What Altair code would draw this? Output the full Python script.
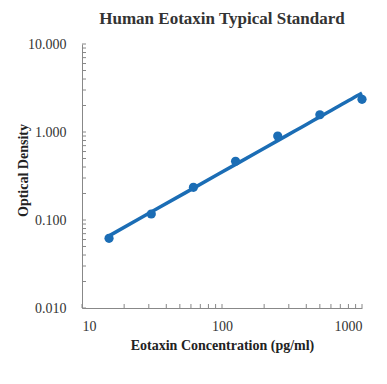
import altair as alt
import pandas as pd

# Standard curve data
conc = [15.6, 31.25, 62.5, 125, 250, 500, 1000]
od = [0.062, 0.117, 0.235, 0.465, 0.90, 1.57, 2.35]

# Axis tick values (log axes, with minor ticks)
x_major = [10, 100, 1000]
y_major = [0.01, 0.1, 1, 10]
x_ticks = [10, 20, 30, 40, 50, 60, 70, 80, 90,
           100, 200, 300, 400, 500, 600, 700, 800, 900, 1000]
y_ticks = [0.01, 0.02, 0.03, 0.04, 0.05, 0.06, 0.07, 0.08, 0.09,
           0.1, 0.2, 0.3, 0.4, 0.5, 0.6, 0.7, 0.8, 0.9,
           1, 2, 3, 4, 5, 6, 7, 8, 9, 10]

df = pd.DataFrame({"conc": conc, "od": od})
xt = pd.DataFrame({"conc": x_ticks})
yt = pd.DataFrame({"od": y_ticks})

BLUE = "#1b6db5"
SERIF = "Liberation Serif"
W, H = 280, 264

xscale = alt.Scale(type="log", domain=[10, 1000])
yscale = alt.Scale(type="log", domain=[0.01, 10])

x_enc = alt.X("conc:Q", scale=xscale,
              axis=alt.Axis(values=x_major, format="d",
                            title="Eotaxin Concentration (pg/ml)",
                            titleY=41, titleBaseline="alphabetic",
                            labelPadding=11))
y_enc = alt.Y("od:Q", scale=yscale,
              axis=alt.Axis(values=y_major, format=".3f",
                            title="Optical Density",
                            titleX=-55, titleY=126, titleBaseline="alphabetic",
                            labelPadding=16))

line = alt.Chart(df).transform_regression(
    "conc", "od", method="pow"
).mark_line(color=BLUE, strokeWidth=3.5).encode(x=x_enc, y=y_enc)

points = alt.Chart(df).mark_circle(color=BLUE, opacity=1, size=85).encode(
    x=x_enc, y=y_enc)

xtick_layer = alt.Chart(xt).mark_rule(color="#888", strokeWidth=1).encode(
    x=x_enc, y=alt.value(H), y2=alt.value(H - 4))

ytick_layer = alt.Chart(yt).mark_rule(color="#888", strokeWidth=1).encode(
    y=y_enc, x=alt.value(0), x2=alt.value(4))

chart = alt.layer(xtick_layer, ytick_layer, line, points).properties(
    width=W, height=H,
    title=alt.TitleParams("Human Eotaxin Typical Standard",
                          font=SERIF, fontSize=17, fontWeight="bold",
                          color="#333", anchor="middle", offset=9),
    autosize=alt.AutoSizeParams(type="none"),
    padding={"left": 74, "top": 36, "right": 17, "bottom": 60},
).configure_view(stroke=None).configure_axis(
    grid=False, ticks=False, domainColor="#888", domainWidth=1,
    labelFont=SERIF, labelFontSize=14, labelColor="#333",
    titleFont=SERIF, titleFontSize=14, titleFontWeight="bold",
    titleColor="#222",
)

chart.save("out.html", embed_options={"renderer": "svg", "actions": False})
